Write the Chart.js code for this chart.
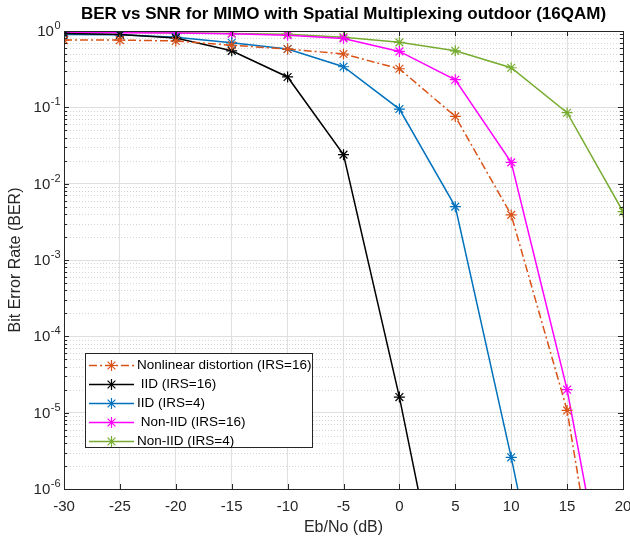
<!DOCTYPE html>
<html>
<head>
<meta charset="utf-8">
<title>BER vs SNR</title>
<script src="https://cdn.jsdelivr.net/npm/chart.js@4.4.0/dist/chart.umd.min.js"></script>
<style>
  html, body { margin: 0; padding: 0; background: #fff; }
  #wrap { width: 630px; height: 538px; }
</style>
</head>
<body>
<div id="wrap"><canvas id="berChart"></canvas></div>
<script>
// x values (Eb/No in dB)
const snrDb = [-30, -25, -20, -15, -10, -5, 0, 5, 10, 15, 20];

// BER values (points below 1e-6 only set the slope of the line leaving the plot)
const berNonlinear16 = [0.76, 0.76, 0.74, 0.65, 0.58, 0.50, 0.32, 0.076, 0.0039, 1.07e-5, 4e-10];
const berIid16 = [0.93, 0.90, 0.81, 0.55, 0.25, 0.024, 1.6e-5, 4e-9];
const berIid4 = [0.90, 0.89, 0.83, 0.70, 0.58, 0.34, 0.095, 0.005, 2.6e-6, 8e-10];
const berNonIid16 = [0.95, 0.95, 0.94, 0.92, 0.88, 0.80, 0.54, 0.23, 0.019, 2.0e-5, 2.5e-9];
const berNonIid4 = [0.97, 0.96, 0.95, 0.93, 0.91, 0.83, 0.71, 0.55, 0.33, 0.085, 0.0043];

const seriesLabels = ['Nonlinear distortion (IRS=16)', ' IID (IRS=16)', 'IID (IRS=4)', ' Non-IID (IRS=16)', 'Non-IID (IRS=4)'];
const seriesColors = ['#D95319', '#000000', '#0072BD', '#FF00FF', '#77AC30'];

// y tick decades (10^exp)
const yTickExps = [0, -1, -2, -3, -4, -5, -6];

const FONT = "'Liberation Sans', Arial, Helvetica, sans-serif";
const AXIS_COLOR = '#262626';

function toPoints(values) {
    return values.map((v, i) => ({ x: snrDb[i], y: v }));
}

function isDecade(v) {
    const e = Math.log10(v);
    return Math.abs(e - Math.round(e)) < 1e-6;
}

const allSeries = [berNonlinear16, berIid16, berIid4, berNonIid16, berNonIid4];

const datasets = allSeries.map((vals, i) => ({
    label: seriesLabels[i],
    data: toPoints(vals),
    borderColor: seriesColors[i],
    backgroundColor: seriesColors[i],
    borderWidth: 1.5,
    borderDash: i === 0 ? [8, 3, 2, 3] : [],
    pointStyle: 'star',
    pointRadius: 5.5,
    pointHoverRadius: 5.5,
    pointBorderWidth: 1.2,
    pointBorderColor: seriesColors[i],
    tension: 0
}));

// dotted minor grid, axis box, tick marks, y labels with superscripts, legend
const matlabLook = {
    id: 'matlabLook',
    beforeDatasetsDraw(chart) {
        const { ctx, chartArea: a, scales: { y } } = chart;
        ctx.save();
        ctx.strokeStyle = '#d4d4d4';
        ctx.lineWidth = 1;
        ctx.setLineDash([1, 2]);
        for (let k = -6; k < 0; k++) {
            for (let m = 2; m <= 9; m++) {
                const py = Math.round(y.getPixelForValue(m * Math.pow(10, k))) + 0.5;
                ctx.beginPath();
                ctx.moveTo(a.left, py);
                ctx.lineTo(a.right, py);
                ctx.stroke();
            }
        }
        ctx.restore();
    },
    afterDatasetsDraw(chart) {
        const { ctx, chartArea: a, scales: { x, y } } = chart;
        ctx.save();
        ctx.strokeStyle = AXIS_COLOR;
        ctx.lineWidth = 1;

        // tick marks, inward, on all four sides
        ctx.beginPath();
        snrDb.forEach(v => {
            const px = Math.round(x.getPixelForValue(v)) + 0.5;
            ctx.moveTo(px, a.bottom); ctx.lineTo(px, a.bottom - 5);
            ctx.moveTo(px, a.top); ctx.lineTo(px, a.top + 5);
        });
        for (let k = -6; k <= 0; k++) {
            const maxM = k === 0 ? 1 : 9;
            for (let m = 1; m <= maxM; m++) {
                const len = m === 1 ? 5 : 3;
                const py = Math.round(y.getPixelForValue(m * Math.pow(10, k))) + 0.5;
                ctx.moveTo(a.left, py); ctx.lineTo(a.left + len, py);
                ctx.moveTo(a.right, py); ctx.lineTo(a.right - len, py);
            }
        }
        ctx.stroke();

        // box
        ctx.strokeRect(Math.round(a.left) + 0.5, Math.round(a.top) + 0.5,
            Math.round(a.right - a.left), Math.round(a.bottom - a.top));

        // y tick labels 10^n
        ctx.fillStyle = AXIS_COLOR;
        ctx.textBaseline = 'middle';
        ctx.textAlign = 'left';
        yTickExps.forEach(e => {
            const py = y.getPixelForValue(Math.pow(10, e));
            const base = '10';
            const sup = String(e);
            ctx.font = '15px ' + FONT;
            const wb = ctx.measureText(base).width;
            ctx.font = '11px ' + FONT;
            const ws = ctx.measureText(sup).width;
            const right = a.left - 4;
            const x0 = right - wb - ws;
            ctx.font = '15px ' + FONT;
            ctx.fillText(base, x0, py + 1);
            ctx.font = '11px ' + FONT;
            ctx.fillText(sup, x0 + wb + 0.5, py - 5);
        });
        ctx.restore();

        // legend
        const lx = 85.5, ly = 353.5, lw = 227, lh = 94;
        ctx.save();
        ctx.fillStyle = '#ffffff';
        ctx.fillRect(lx, ly, lw, lh);
        ctx.strokeStyle = AXIS_COLOR;
        ctx.lineWidth = 1;
        ctx.strokeRect(lx, ly, lw, lh);
        chart.data.datasets.forEach((ds, i) => {
            const ry = 365.5 + i * 19;
            ctx.save();
            ctx.strokeStyle = ds.borderColor;
            ctx.lineWidth = ds.borderWidth;
            ctx.setLineDash(ds.borderDash);
            ctx.beginPath();
            ctx.moveTo(89, ry);
            ctx.lineTo(134, ry);
            ctx.stroke();
            ctx.setLineDash([]);
            ctx.lineWidth = ds.pointBorderWidth;
            Chart.helpers.drawPoint(ctx, { pointStyle: 'star', radius: ds.pointRadius, rotation: 0, borderWidth: ds.pointBorderWidth }, 111.5, ry);
            ctx.restore();
            ctx.fillStyle = '#000000';
            ctx.font = '13.5px ' + FONT;
            ctx.textBaseline = 'middle';
            ctx.textAlign = 'left';
            ctx.fillText(ds.label, 137, ry);
        });
        ctx.restore();
    }
};

const ctxBer = document.getElementById('berChart').getContext('2d');
new Chart(ctxBer, {
    type: 'line',
    data: { datasets: datasets },
    options: {
        responsive: true,
        maintainAspectRatio: false,
        animation: false,
        events: [],
        layout: { padding: { left: 0, right: 7, top: 0, bottom: 0 } },
        plugins: {
            legend: { display: false },
            tooltip: { enabled: false },
            title: {
                display: true,
                fullSize: false,
                text: 'BER vs SNR for MIMO with Spatial Multiplexing outdoor (16QAM)',
                color: '#000000',
                font: { family: FONT, size: 17, weight: 'bold', lineHeight: 1.2 },
                padding: { top: 4, bottom: 6.6 }
            }
        },
        scales: {
            x: {
                type: 'linear',
                min: -30,
                max: 20,
                afterFit: scale => {
                    scale.height = 49;
                    scale.paddingLeft = 0;
                    scale.paddingRight = 0;
                },
                ticks: {
                    stepSize: 5,
                    color: AXIS_COLOR,
                    font: { family: FONT, size: 15 },
                    padding: 9,
                    maxRotation: 0
                },
                grid: { color: '#dfdfdf', drawTicks: false, tickLength: 0 },
                border: { display: false },
                title: {
                    display: true,
                    text: 'Eb/No (dB)',
                    color: AXIS_COLOR,
                    font: { family: FONT, size: 16 },
                    padding: { top: 0, bottom: 1 }
                }
            },
            y: {
                type: 'logarithmic',
                min: 1e-6,
                max: 1,
                afterFit: scale => { scale.width = 64; },
                ticks: { display: false },
                grid: {
                    color: ctx => (ctx.tick && isDecade(ctx.tick.value)) ? '#dfdfdf' : 'rgba(0,0,0,0)',
                    drawTicks: false,
                    tickLength: 0
                },
                border: { display: false },
                title: {
                    display: true,
                    text: 'Bit Error Rate (BER)',
                    color: AXIS_COLOR,
                    font: { family: FONT, size: 16 },
                    padding: { top: 6, bottom: 0 }
                }
            }
        }
    },
    plugins: [matlabLook]
});
</script>
</body>
</html>
